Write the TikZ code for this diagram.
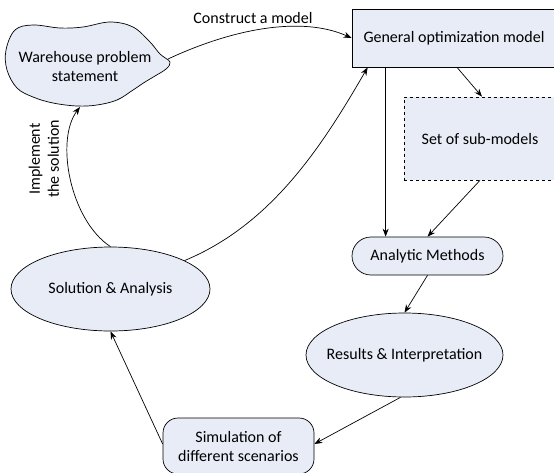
\documentclass[tikz,border=0pt]{standalone}
\usepackage{fontspec}
\setmainfont{Carlito}
\usetikzlibrary{arrows.meta,shapes.geometric}
\definecolor{boxfill}{RGB}{231,236,246}
\begin{document}
\begin{tikzpicture}[x=1pt,y=-1pt,
  font=\fontsize{16}{19}\selectfont,
  shp/.style={draw, fill=boxfill, line width=0.7pt, align=center, inner sep=0pt},
  ell/.style={shp, ellipse},
  arr/.style={-{Stealth[length=8pt,width=6pt]}, line width=0.7pt}]
\useasboundingbox (0,0) rectangle (554,472);

% cloud shape
\draw[fill=boxfill, line width=0.7pt] plot[smooth cycle, tension=0.6] coordinates {
  (15,30) (33,25) (60,28) (83,27) (110,22) (133,27) (150,42) (160,54) (170,62)
  (166,69) (155,76) (145,82) (133,90) (117,100) (97,105) (77,106) (53,103)
  (33,97) (17,88) (7,70) (6,50)};
\node[align=center, inner sep=0pt] (cloud) at (85,66) {Warehouse problem\\statement};
\coordinate (cloudR) at (168,59);
\coordinate (cloudB) at (80,107);

\node[shp, minimum width=204pt, minimum height=58pt] (gom) at (454,38) {General optimization model};
\node[shp, dashed, minimum width=152pt, minimum height=83pt] (sub) at (480,138.5) {Set of sub-models};
\node[shp, rounded corners=19pt, minimum width=151pt, minimum height=38pt] (an) at (427.5,256) {Analytic Methods};
\node[ell, minimum width=197pt, minimum height=84pt] (res) at (404.5,355) {\makebox[0pt]{Results \& Interpretation}};
\node[shp, rounded corners=15pt, minimum width=151pt, minimum height=56pt] (sim) at (238.5,446) {Simulation of\\different scenarios};
\node[ell, minimum width=199pt, minimum height=84pt] (sol) at (110.5,289) {\makebox[0pt]{Solution \& Analysis}};

% connectors
\draw[arr] (cloudR) .. controls (230,30) and (300,15) .. (gom.west);
\node (lblcon) at (253,18) {Construct a model};
\draw[arr] ([xshift=3pt]gom.south) -- ([xshift=2pt]sub.north);
\draw[arr] ([xshift=34pt]gom.south west) -- ([xshift=34pt]gom.south west |- an.north);
\draw[arr] (sub.south) -- (an.north);
\draw[arr] (an.south) -- (res.north);
\draw[arr] ([xshift=-4pt]res.south) -- ([yshift=2pt]sim.east);
\draw[arr] ([yshift=2pt]sim.west) -- (sol.south);
\draw[arr] (sol.north) .. controls (70,220) and (55,140) .. (cloudB);
\draw[arr] (sol.21) .. controls (270,225) and (320,150) .. ([xshift=16pt]gom.south west);
\node[rotate=90, align=center] (lblimp) at (44,159) {Implement\\the solution};
\end{tikzpicture}
\end{document}
